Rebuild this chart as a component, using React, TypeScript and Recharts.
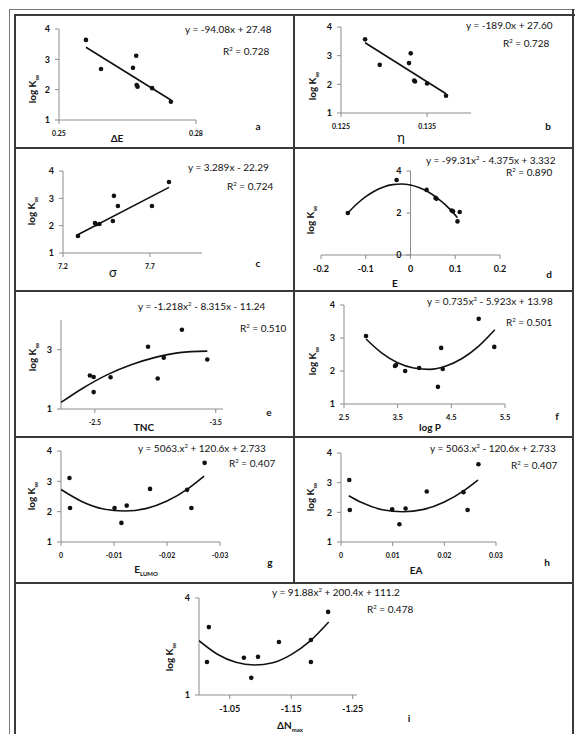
import React from 'react';
import { ScatterChart, Scatter, XAxis, YAxis, ReferenceLine } from 'recharts';

type Pt = { x: number; y: number };

// a: log K vs ΔE
const aPoints: Pt[] = [
  { x: 0.2559, y: 3.64 }, { x: 0.2592, y: 2.68 }, { x: 0.2662, y: 2.72 }, { x: 0.2669, y: 3.12 },
  { x: 0.267, y: 2.15 }, { x: 0.2672, y: 2.1 }, { x: 0.2704, y: 2.05 }, { x: 0.2745, y: 1.6 },
];
const aTrend: Pt[] = [{ x: 0.2559, y: 3.4 }, { x: 0.2745, y: 1.66 }];

// b: η
const bPoints: Pt[] = [
  { x: 0.1278, y: 3.57 }, { x: 0.1295, y: 2.68 }, { x: 0.1329, y: 2.74 }, { x: 0.1331, y: 3.08 },
  { x: 0.1335, y: 2.13 }, { x: 0.1336, y: 2.1 }, { x: 0.135, y: 2.03 }, { x: 0.1372, y: 1.6 },
];
const bTrend: Pt[] = [{ x: 0.1278, y: 3.45 }, { x: 0.1372, y: 1.67 }];

// c: σ
const cPoints: Pt[] = [
  { x: 7.286, y: 1.62 }, { x: 7.384, y: 2.1 }, { x: 7.39, y: 2.05 }, { x: 7.41, y: 2.06 },
  { x: 7.487, y: 2.17 }, { x: 7.493, y: 3.09 }, { x: 7.516, y: 2.72 }, { x: 7.712, y: 2.72 },
  { x: 7.81, y: 3.6 },
];
const cTrend: Pt[] = [{ x: 7.285, y: 1.67 }, { x: 7.81, y: 3.4 }];

// d: E
const dPoints: Pt[] = [
  { x: -0.14, y: 2.0 }, { x: -0.031, y: 3.57 }, { x: 0.036, y: 3.1 }, { x: 0.056, y: 2.72 },
  { x: 0.058, y: 2.68 }, { x: 0.092, y: 2.12 }, { x: 0.095, y: 2.08 }, { x: 0.11, y: 2.05 },
  { x: 0.105, y: 1.6 },
];
const dTrend: Pt[] = [
  { x: -0.14, y: 2.0 }, { x: -0.12, y: 2.43 }, { x: -0.1, y: 2.78 }, { x: -0.08, y: 3.05 },
  { x: -0.06, y: 3.24 }, { x: -0.04, y: 3.35 }, { x: -0.02, y: 3.38 }, { x: 0, y: 3.33 },
  { x: 0.02, y: 3.2 }, { x: 0.04, y: 3.0 }, { x: 0.06, y: 2.71 }, { x: 0.08, y: 2.35 },
  { x: 0.1, y: 1.9 }, { x: 0.105, y: 1.78 },
];

// e: TNC
const ePoints: Pt[] = [
  { x: -2.459, y: 2.13 }, { x: -2.49, y: 2.08 }, { x: -2.49, y: 1.57 }, { x: -2.63, y: 2.07 },
  { x: -2.94, y: 3.1 }, { x: -3.02, y: 2.03 }, { x: -3.07, y: 2.73 }, { x: -3.22, y: 3.67 },
  { x: -3.43, y: 2.67 },
];
const eTrend: Pt[] = [
  { x: -2.22, y: 1.22 }, { x: -2.4, y: 1.7 }, { x: -2.6, y: 2.15 }, { x: -2.8, y: 2.49 },
  { x: -3.0, y: 2.74 }, { x: -3.2, y: 2.9 }, { x: -3.43, y: 2.95 },
];

// f: log P
const fPoints: Pt[] = [
  { x: 2.91, y: 3.06 }, { x: 3.45, y: 2.15 }, { x: 3.47, y: 2.18 }, { x: 3.64, y: 2.0 },
  { x: 3.9, y: 2.09 }, { x: 4.25, y: 1.52 }, { x: 4.31, y: 2.7 }, { x: 4.34, y: 2.06 },
  { x: 5.01, y: 3.58 }, { x: 5.3, y: 2.73 },
];
const fTrend: Pt[] = [
  { x: 2.91, y: 2.97 }, { x: 3.2, y: 2.55 }, { x: 3.5, y: 2.25 }, { x: 3.8, y: 2.09 },
  { x: 4.1, y: 2.05 }, { x: 4.4, y: 2.15 }, { x: 4.7, y: 2.38 }, { x: 5.0, y: 2.74 },
  { x: 5.31, y: 3.25 },
];

// g: E LUMO
const gPoints: Pt[] = [
  { x: -0.0016, y: 3.11 }, { x: -0.0017, y: 2.12 }, { x: -0.0101, y: 2.12 }, { x: -0.0114, y: 1.63 },
  { x: -0.0124, y: 2.2 }, { x: -0.0168, y: 2.75 }, { x: -0.0238, y: 2.72 }, { x: -0.0246, y: 2.12 },
  { x: -0.0271, y: 3.61 },
];
const gTrend: Pt[] = [
  { x: 0, y: 2.73 }, { x: -0.004, y: 2.33 }, { x: -0.008, y: 2.09 }, { x: -0.012, y: 2.02 },
  { x: -0.016, y: 2.1 }, { x: -0.02, y: 2.35 }, { x: -0.024, y: 2.76 }, { x: -0.027, y: 3.17 },
];

// h: EA
const hPoints: Pt[] = [
  { x: 0.0016, y: 3.09 }, { x: 0.0017, y: 2.08 }, { x: 0.0099, y: 2.1 }, { x: 0.0113, y: 1.6 },
  { x: 0.0125, y: 2.13 }, { x: 0.0166, y: 2.7 }, { x: 0.0237, y: 2.68 }, { x: 0.0245, y: 2.08 },
  { x: 0.0266, y: 3.62 },
];
const hTrend: Pt[] = [
  { x: 0.0015, y: 2.56 }, { x: 0.004, y: 2.33 }, { x: 0.008, y: 2.09 }, { x: 0.012, y: 2.02 },
  { x: 0.016, y: 2.1 }, { x: 0.02, y: 2.35 }, { x: 0.024, y: 2.76 }, { x: 0.0265, y: 3.09 },
];

// i: ΔN max
const iPoints: Pt[] = [
  { x: -1.013, y: 2.02 }, { x: -1.016, y: 3.1 }, { x: -1.073, y: 2.15 }, { x: -1.085, y: 1.53 },
  { x: -1.096, y: 2.18 }, { x: -1.13, y: 2.64 }, { x: -1.182, y: 2.02 }, { x: -1.182, y: 2.7 },
  { x: -1.21, y: 3.57 },
];
const iTrend: Pt[] = [
  { x: -1.0, y: 2.68 }, { x: -1.03, y: 2.26 }, { x: -1.06, y: 2.01 }, { x: -1.09, y: 1.93 },
  { x: -1.12, y: 2.0 }, { x: -1.15, y: 2.25 }, { x: -1.18, y: 2.66 }, { x: -1.211, y: 3.26 },
];

const AXIS = '#8c8c8c';
const INK = '#111';

interface PanelProps {
  box: [number, number, number, number]; // left, right, top, bottom of plot area
  xDomain: [number, number];
  yDomain: [number, number];
  xTicks: number[];
  yTicks: number[];
  reversed?: boolean;
  points: Pt[];
  trend: Pt[];
  xFont?: number;
  centreY?: boolean;
}

const Dot = (p: any) => <circle cx={p.cx} cy={p.cy} r={2.3} fill={INK} />;

const Panel: React.FC<PanelProps> = ({ box, xDomain, yDomain, xTicks, yTicks, reversed, points, trend, xFont = 7.5, centreY }) => {
  const [x0, x1, y0, y1] = box;
  const w = x1 - x0 + 50;
  const h = y1 - y0 + 40;
  return (
    <div style={{ position: 'absolute', left: x0 - 40, top: y0 - 10 }}>
      <ScatterChart width={w} height={h} margin={{ top: 10, right: 10, left: centreY ? 40 : 0, bottom: 0 }}>
        <XAxis
          type="number" dataKey="x" domain={xDomain} ticks={xTicks} reversed={reversed}
          allowDataOverflow height={30} interval={0}
          stroke={AXIS} tickSize={4} tickMargin={7}
          tick={{ fill: INK, fontSize: xFont, fontWeight: 700 }}
          tickFormatter={(v) => String(v)}
        />
        <YAxis
          type="number" dataKey="y" domain={yDomain} ticks={yTicks} hide={centreY}
          allowDataOverflow width={40} interval={0}
          stroke={AXIS} tickSize={4} tickMargin={5}
          tick={{ fill: INK, fontSize: 9, fontWeight: 700 }}
        />
        {centreY && <ReferenceLine x={0} stroke={AXIS} />}
        {centreY && yTicks.map((v) => (
          <ReferenceLine key={v} stroke={AXIS}
            segment={[{ x: -0.009, y: v }, { x: 0, y: v }]}
            label={{ value: String(v), position: 'left', offset: 5, fill: INK, fontSize: 9, fontWeight: 700 }}
          />
        ))}
        <Scatter data={trend} line={{ stroke: '#111', strokeWidth: 1.6 }} lineJointType="monotoneX"
          shape={() => <g />} isAnimationActive={false} />
        <Scatter data={points} shape={Dot} isAnimationActive={false} />
      </ScatterChart>
    </div>
  );
};

const T: React.FC<{ x: number; y: number; size?: number; bold?: boolean; center?: boolean; children: React.ReactNode }> = ({ x, y, size = 10, bold, center, children }) => (
  <div style={{
    position: 'absolute', left: x, top: y, fontSize: size, fontWeight: bold ? 700 : 400, lineHeight: 1,
    whiteSpace: 'nowrap', color: INK, transform: center ? 'translate(-50%,-50%)' : 'translateY(-50%)',
  }}>{children}</div>
);

const LogK: React.FC<{ x: number; y: number }> = ({ x, y }) => (
  <div style={{
    position: 'absolute', left: x, top: y, fontSize: 10, fontWeight: 700, lineHeight: 1,
    whiteSpace: 'nowrap', color: INK, transform: 'translate(-50%,-50%) rotate(-90deg)',
  }}>log K<span style={{ fontSize: 6, verticalAlign: 'sub' }}>se</span></div>
);

const Sq = () => <sup style={{ fontSize: 6 }}>2</sup>;

const line = (l: number, t: number, w: number, h: number, c = '#3a3a3a') => (
  <div style={{ position: 'absolute', left: l, top: t, width: w, height: h, background: c }} />
);

export default function App() {
  return (
    <div style={{ position: 'absolute', left: 0, top: 0, width: 575, height: 734, background: '#fff', fontFamily: 'Lato, "Liberation Sans", sans-serif', overflow: 'hidden' }}>
      {line(9, 9, 566, 1, '#777')}
      {line(9, 9, 1, 725, '#777')}
      {line(14, 14, 561, 2)}
      {line(14, 14, 2, 720)}
      {line(572, 9, 2, 725)}
      {line(293, 14, 2, 570)}
      {line(14, 147, 560, 2)}
      {line(14, 290, 560, 2)}
      {line(14, 436, 560, 2)}
      {line(14, 582, 560, 2)}

      {/* a */}
      <Panel box={[59, 196, 29, 120]} xDomain={[0.25, 0.28]} yDomain={[1, 4]} xTicks={[0.25, 0.28]} yTicks={[1, 2, 3, 4]} points={aPoints} trend={aTrend} xFont={7} />
      <T x={185} y={29}>y = -94.08x + 27.48</T>
      <T x={223} y={51}>R<Sq /> = 0.728</T>
      <T x={258} y={126} bold center>a</T>
      <T x={117} y={138} bold center>ΔE</T>
      <LogK x={33} y={89} />

      {/* b */}
      <Panel box={[341, 471, 27, 113]} xDomain={[0.125, 0.1401]} yDomain={[1, 4]} xTicks={[0.125, 0.135]} yTicks={[1, 2, 3, 4]} points={bPoints} trend={bTrend} xFont={7} />
      <T x={466} y={25}>y = -189.0x + 27.60</T>
      <T x={503} y={43}>R<Sq /> = 0.728</T>
      <T x={548} y={126} bold center>b</T>
      <T x={401} y={137} size={13} center>η</T>
      <LogK x={313} y={86} />

      {/* c */}
      <Panel box={[63, 202, 171, 253]} xDomain={[7.2, 8.0]} yDomain={[1, 4]} xTicks={[7.2, 7.7]} yTicks={[1, 2, 3, 4]} points={cPoints} trend={cTrend} xFont={7} />
      <T x={188} y={167}>y = 3.289x - 22.29</T>
      <T x={227} y={186}>R<Sq /> = 0.724</T>
      <T x={258} y={263} bold center>c</T>
      <T x={113} y={272} size={13} center>σ</T>
      <LogK x={32} y={211} />

      {/* d */}
      <Panel box={[321, 500, 171, 255]} xDomain={[-0.2, 0.2]} yDomain={[0, 4]} xTicks={[-0.2, -0.1, 0, 0.1, 0.2]} yTicks={[0, 2, 4]} points={dPoints} trend={dTrend} xFont={9} centreY />
      <T x={426} y={160}>y = -99.31x<Sq /> - 4.375x + 3.332</T>
      <T x={506} y={172}>R<Sq /> = 0.890</T>
      <T x={549} y={274} bold center>d</T>
      <T x={395} y={283} bold center>E</T>
      <LogK x={311} y={220} />

      {/* e */}
      <Panel box={[61, 223, 320, 409]} xDomain={[-3.56, -2.22]} yDomain={[1, 4]} xTicks={[-2.5, -3.5]} yTicks={[1, 3]} reversed points={ePoints} trend={eTrend} xFont={7} />
      <T x={138} y={306}>y = -1.218x<Sq /> - 8.315x - 11.24</T>
      <T x={240} y={328}>R<Sq /> = 0.510</T>
      <T x={269} y={412} bold center>e</T>
      <T x={144} y={427} bold center>TNC</T>
      <LogK x={33} y={357} />

      {/* f */}
      <Panel box={[344, 505, 305, 404]} xDomain={[2.5, 5.5]} yDomain={[1, 4]} xTicks={[2.5, 3.5, 4.5, 5.5]} yTicks={[1, 2, 3, 4]} points={fPoints} trend={fTrend} xFont={7.5} />
      <T x={427} y={301}>y = 0.735x<Sq /> - 5.923x + 13.98</T>
      <T x={506} y={322}>R<Sq /> = 0.501</T>
      <T x={557} y={416} bold center>f</T>
      <T x={430} y={427} bold center>log P</T>
      <LogK x={313} y={361} />

      {/* g */}
      <Panel box={[61, 220, 451, 542]} xDomain={[-0.03, 0]} yDomain={[1, 4]} xTicks={[0, -0.01, -0.02, -0.03]} yTicks={[1, 2, 3, 4]} reversed points={gPoints} trend={gTrend} xFont={7} />
      <T x={138} y={448}>y = 5063.x<Sq /> + 120.6x + 2.733</T>
      <T x={229} y={463}>R<Sq /> = 0.407</T>
      <T x={270} y={562} bold center>g</T>
      <T x={146} y={570} bold center>E<span style={{ fontSize: 6, verticalAlign: 'sub' }}>LUMO</span></T>
      <LogK x={32} y={496} />

      {/* h */}
      <Panel box={[341, 496, 453, 542]} xDomain={[0, 0.03]} yDomain={[1, 4]} xTicks={[0, 0.01, 0.02, 0.03]} yTicks={[1, 2, 3, 4]} points={hPoints} trend={hTrend} xFont={7} />
      <T x={430} y={448}>y = 5063.x<Sq /> - 120.6x + 2.733</T>
      <T x={511} y={465}>R<Sq /> = 0.407</T>
      <T x={547} y={562} bold center>h</T>
      <T x={416} y={570} bold center>EA</T>
      <LogK x={311} y={497} />

      {/* i */}
      <Panel box={[199, 357, 598, 695]} xDomain={[-1.257, -1.0]} yDomain={[1, 4]} xTicks={[-1.05, -1.15, -1.25]} yTicks={[1, 4]} reversed points={iPoints} trend={iTrend} xFont={9} />
      <T x={272} y={592}>y = 91.88x<Sq /> + 200.4x + 111.2</T>
      <T x={367} y={609}>R<Sq /> = 0.478</T>
      <T x={409} y={718} bold center>i</T>
      <T x={290} y={726} bold center>ΔN<span style={{ fontSize: 6, verticalAlign: 'sub' }}>max</span></T>
      <LogK x={170} y={657} />
    </div>
  );
}
